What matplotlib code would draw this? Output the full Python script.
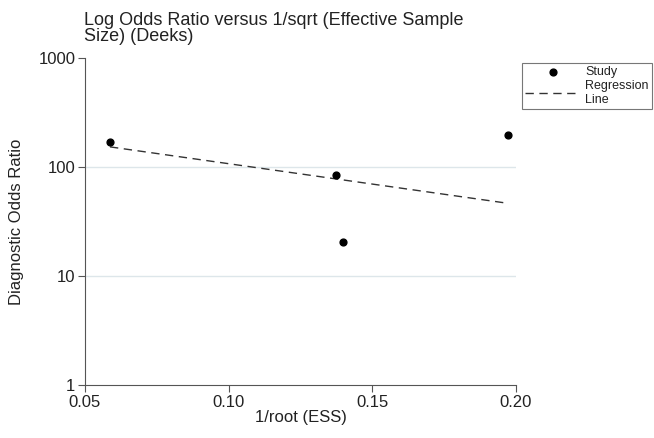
import numpy as np
import matplotlib
matplotlib.use("Agg")
import matplotlib.pyplot as plt

plt.rcParams["font.family"] = ["Liberation Sans", "DejaVu Sans"]
plt.rcParams["text.color"] = "#222222"
plt.rcParams["xtick.labelcolor"] = "#222222"
plt.rcParams["ytick.labelcolor"] = "#222222"
plt.rcParams["axes.labelcolor"] = "#222222"

# Studies (x = 1/root(ESS), y = diagnostic odds ratio)
study_x = [0.0587, 0.1374, 0.1398, 0.1973]
study_dor = [169, 84.5, 20.5, 198]

# Regression line end points
reg_x = [0.0587, 0.1973]
reg_dor = [153, 46.4]

fig = plt.figure(figsize=(6.54, 4.38), dpi=100)
ax = fig.add_axes([85 / 654, 1 - 385 / 438, (516 - 85) / 654, (385 - 58) / 438])

ax.set_yscale("log")
ax.set_xlim(0.05, 0.20)
ax.set_ylim(1, 1000)

for v in [10, 100]:
    ax.axhline(v, color="#dde6ea", linewidth=1, zorder=0)

ax.plot(reg_x, reg_dor, linestyle=(0, (6, 4)), color="#333333", linewidth=1,
        label="Regression\nLine")
ax.scatter(study_x, study_dor, s=24, color="black", zorder=3, label="Study")

ax.set_xticks([0.05, 0.10, 0.15, 0.20])
ax.set_xticklabels(["0.05", "0.10", "0.15", "0.20"])
ax.set_yticks([1, 10, 100, 1000])
ax.set_yticklabels(["1", "10", "100", "1000"])
ax.minorticks_off()
ax.tick_params(labelsize=12, length=5, color="#555555", width=0.8, pad=2)

for s in ["top", "right"]:
    ax.spines[s].set_visible(False)
for s in ["left", "bottom"]:
    ax.spines[s].set_color("#555555")
    ax.spines[s].set_linewidth(0.8)

ax.set_xlabel("1/root (ESS)", fontsize=12, labelpad=0)
ax.set_ylabel("Diagnostic Odds Ratio", fontsize=12, labelpad=10)

fig.text(84 / 654, 1 - 12 / 438,
         "Log Odds Ratio versus 1/sqrt (Effective Sample\nSize) (Deeks)",
         fontsize=13, ha="left", va="top", linespacing=0.95)

handles, labels = ax.get_legend_handles_labels()
leg = fig.legend(handles[::-1], labels[::-1], loc="upper left",
                 bbox_to_anchor=(522 / 654, 1 - 63 / 438), fontsize=9,
                 frameon=True, fancybox=False, edgecolor="#555555",
                 handlelength=4.4, handletextpad=0.4, borderpad=0.25,
                 labelspacing=0.15, borderaxespad=0)
leg.get_frame().set_linewidth(0.8)

fig.savefig("out.png", dpi=100)
